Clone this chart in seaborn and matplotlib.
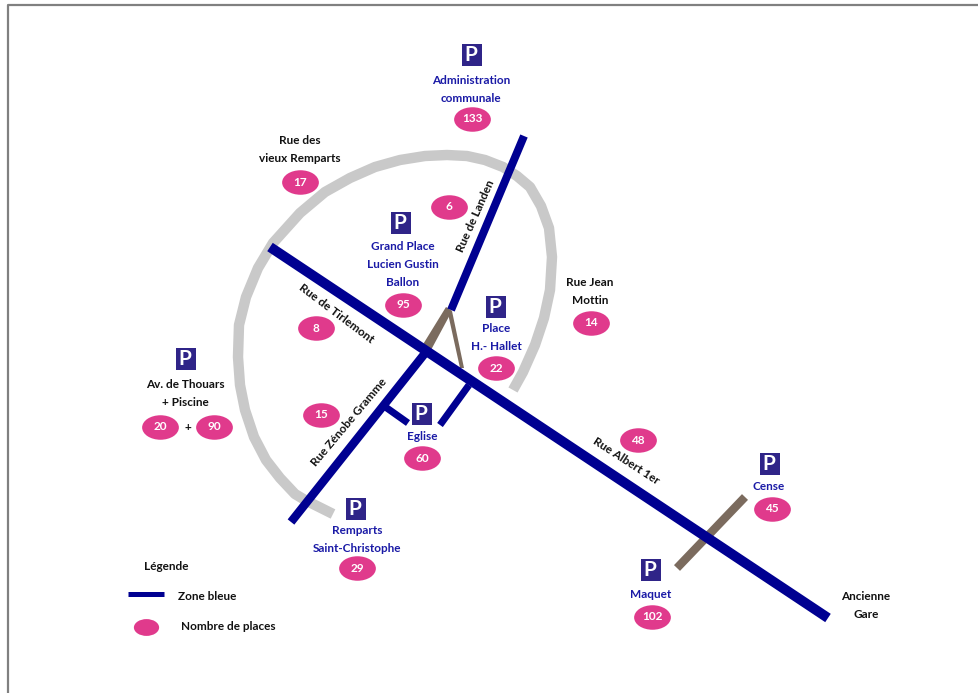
import matplotlib
matplotlib.use("Agg")
import matplotlib.pyplot as plt
import seaborn as sns
from matplotlib.path import Path
from matplotlib.patches import Polygon

ring_x = [513, 523, 535, 544, 550, 552, 549, 541, 530, 517, 503, 485, 467, 447, 425, 400, 375, 350, 325, 300, 273, 258, 246, 239, 238, 240, 245, 254, 266, 280, 295, 305, 319, 333]
ring_y = [390, 372, 345, 318, 290, 257, 228, 206, 187, 176, 167, 160, 156, 155, 156, 160, 167, 178, 192, 213, 243, 268, 297, 325, 357, 385, 410, 437, 460, 478, 494, 500, 507, 514]

street_names = ["Tirlemont", "Landen", "Zenobe", "Eglise G", "Eglise D"]
street_x = [[270, 828], [524, 451], [426, 291], [384, 408], [469, 440]]
street_y = [[247, 618], [136, 310], [352, 522], [406, 423], [385, 425]]
street_w = [10, 8, 8.5, 7, 7]

cross_x = [745, 677]
cross_y = [497, 568]

# parking icons
park_x = [472, 401, 496, 186, 422, 356, 770, 651]
park_y = [55, 223, 307, 359, 414, 509, 464, 570]

# number of places
places = ["133", "17", "6", "95", "22", "14", "8", "20", "90", "15", "60", "29", "48", "45", "102"]
places_x = [472, 300, 449, 403, 496, 591, 316, 160, 214, 321, 422, 357, 638, 772, 652]
places_y = [119, 182, 207, 305, 368, 323, 328, 427, 427, 415, 458, 568, 440, 509, 617]

# blue names of the car parks
blue_text = ["Administration", "communale", "Grand Place", "Lucien Gustin", "Ballon", "Place", "H.- Hallet", "Eglise", "Remparts", "Saint-Christophe", "Cense", "Maquet"]
blue_x = [471, 471, 403, 403, 403, 496, 496, 422, 357, 357, 769, 651]
blue_y = [80, 98, 246, 264, 282, 328, 346, 437, 531, 549, 487, 594]

black_text = ["Rue des", "vieux Remparts", "Rue Jean", "Mottin", "Av. de Thouars", "+ Piscine", "+", "Ancienne", "Gare", "Légende", "Zone bleue", "Nombre de places"]
black_x = [300, 300, 590, 590, 185, 185, 188, 866, 866, 166, 207, 228]
black_y = [141, 159, 283, 301, 384, 402, 428, 596, 614, 566, 596, 627]

road_text = ["Rue de Landen", "Rue de Tirlemont", "Rue Zénobe Gramme", "Rue Albert 1er"]
road_x = [476, 336, 349, 626]
road_y = [216, 313, 422, 461]
road_rot = [66, -37, 50, -33]

sns.set_theme(style="white")
plt.rcParams["font.family"] = ["Lato", "DejaVu Sans"]

BLUE = "#000091"
BROWN = "#7b6b5e"
GREY = "#c9c9c9"
PINK = "#e03a8c"
NAVY = "#2f2488"

fig, ax = plt.subplots(figsize=(9.79, 6.93), dpi=100)
fig.subplots_adjust(0, 0, 1, 1)

# marker shapes, the ellipse is wider than tall
oval = Path.unit_circle().transformed(matplotlib.transforms.Affine2D().scale(1.5, 1))
tall_box = Path([(-10, -11), (10, -11), (10, 11), (-10, 11), (-10, -11)], closed=True)

# frame around the map
sns.lineplot(x=[8, 8, 979], y=[693, 5, 5], sort=False, estimator=None, color="#808080", linewidth=1.6, ax=ax)

sns.lineplot(x=ring_x, y=ring_y, sort=False, estimator=None, color=GREY, linewidth=7.5, solid_capstyle="butt", ax=ax)

# brown links, the Y gets thinner towards the street
ax.add_patch(Polygon([(446, 307), (452, 311), (431, 350), (422, 346)], closed=True, color=BROWN, lw=0))
ax.add_patch(Polygon([(447, 309), (452, 311), (464, 368), (460, 368)], closed=True, color=BROWN, lw=0))
sns.lineplot(x=cross_x, y=cross_y, sort=False, estimator=None, color=BROWN, linewidth=6, solid_capstyle="butt", ax=ax)

for name, xs, ys, w in zip(street_names, street_x, street_y, street_w):
    sns.lineplot(x=xs, y=ys, sort=False, estimator=None, color=BLUE, linewidth=w * 0.72, solid_capstyle="butt", ax=ax)

sns.scatterplot(x=park_x, y=park_y, marker=tall_box, s=251, color=NAVY, linewidth=0, ax=ax, zorder=3)
for x, y in zip(park_x, park_y):
    ax.text(x - 1, y, "P", color="white", fontsize=15, fontweight="bold", ha="center", va="center", zorder=4)

sns.scatterplot(x=places_x, y=places_y, marker=oval, s=700, color=PINK, linewidth=0, ax=ax, zorder=3)
for label, x, y in zip(places, places_x, places_y):
    ax.text(x, y, label, color="white", fontsize=8.5, fontweight="bold", ha="center", va="center", zorder=4)

for label, x, y in zip(blue_text, blue_x, blue_y):
    ax.text(x, y, label, color="#1a1aa6", fontsize=8.5, fontweight="bold", ha="center", va="center")
for label, x, y in zip(black_text, black_x, black_y):
    ax.text(x, y, label, color="#111111", fontsize=8.5, fontweight="bold", ha="center", va="center")
for label, x, y, rot in zip(road_text, road_x, road_y, road_rot):
    ax.text(x, y, label, color="#111111", fontsize=8.5, fontweight="bold", ha="center", va="center", rotation=rot, rotation_mode="anchor")

# hand made legend like on the map
sns.lineplot(x=[128, 164], y=[594, 594], sort=False, estimator=None, color=BLUE, linewidth=3.6, solid_capstyle="butt", ax=ax)
sns.scatterplot(x=[146], y=[627], marker=oval, s=330, color=PINK, linewidth=0, ax=ax, zorder=3)

ax.set_xlim(0, 979)
ax.set_ylim(693, 0)
ax.axis("off")
fig.savefig("out.png", dpi=100, facecolor="white")
